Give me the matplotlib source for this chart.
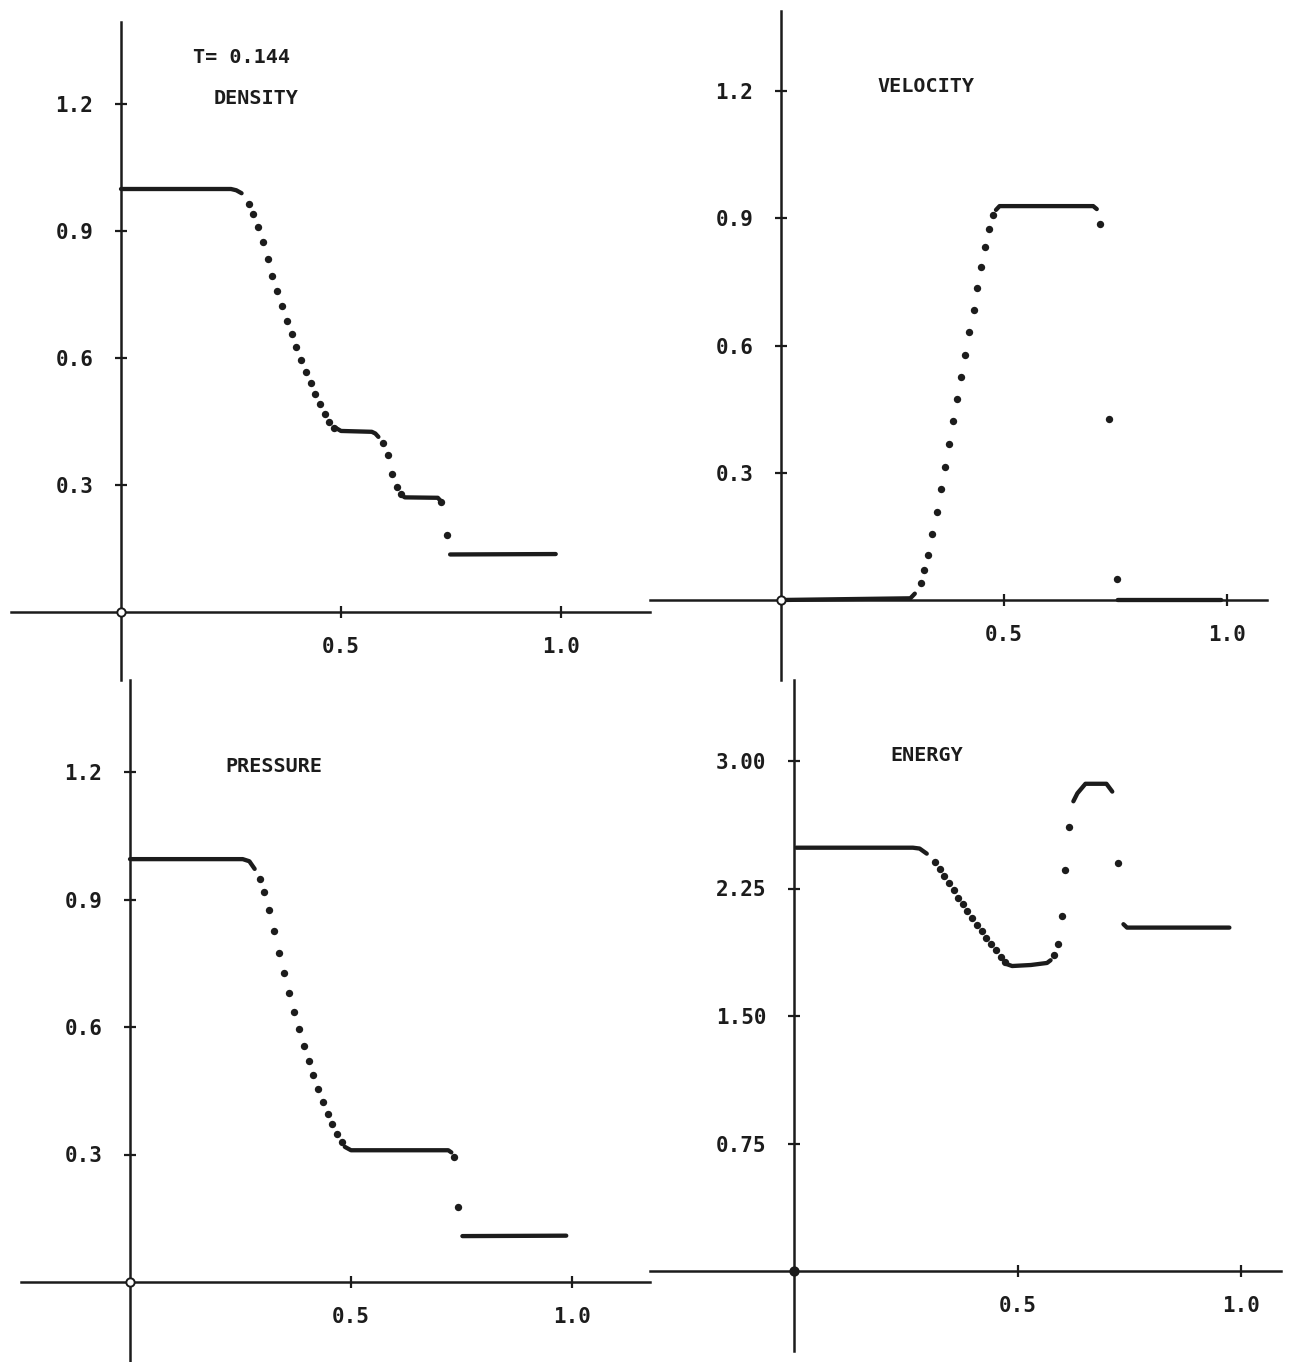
import matplotlib
matplotlib.use("Agg")
import matplotlib.pyplot as plt
import numpy as np

W, H = 1294, 1362
INK = "#1c1c1c"
nan = np.nan

# ---- data (x position, value) ----
# plateaus are drawn as thick polylines (nan separates pieces), the rest as dots
density_line_x = [0.0, 0.25, 0.262, 0.274, nan,
                  0.490, 0.50, 0.57, 0.578, 0.585, nan,
                  0.638, 0.645, 0.72, 0.727, nan,
                  0.748, 0.988]
density_line_y = [1.0, 1.0, 0.997, 0.99, nan,
                  0.434, 0.428, 0.426, 0.422, 0.414, nan,
                  0.276, 0.271, 0.270, 0.262, nan,
                  0.136, 0.137]
density_dot_x = [0.292, 0.301, 0.311, 0.323, 0.333, 0.344, 0.355, 0.367, 0.377, 0.388,
                 0.398, 0.410, 0.420, 0.431, 0.442, 0.453, 0.463, 0.473, 0.483,
                 0.595, 0.606, 0.617, 0.627, 0.636, 0.727, 0.740]
density_dot_y = [0.964, 0.940, 0.909, 0.874, 0.834, 0.794, 0.759, 0.723, 0.689, 0.657,
                 0.626, 0.596, 0.567, 0.541, 0.515, 0.491, 0.467, 0.448, 0.434,
                 0.400, 0.371, 0.326, 0.295, 0.279, 0.261, 0.182]

velocity_line_x = [0.0, 0.29, 0.300, nan,
                   0.482, 0.49, 0.70, 0.708, nan,
                   0.755, 0.987]
velocity_line_y = [0.0, 0.004, 0.015, nan,
                   0.920, 0.929, 0.929, 0.922, nan,
                   0.0, 0.0]
velocity_dot_x = [0.313, 0.321, 0.330, 0.339, 0.349, 0.358, 0.367, 0.376, 0.386, 0.395,
                  0.404, 0.413, 0.422, 0.432, 0.440, 0.449, 0.458, 0.467, 0.476,
                  0.715, 0.736, 0.753]
velocity_dot_y = [0.041, 0.070, 0.106, 0.155, 0.207, 0.261, 0.314, 0.367, 0.421, 0.474,
                  0.526, 0.579, 0.632, 0.683, 0.735, 0.785, 0.833, 0.876, 0.909,
                  0.886, 0.426, 0.049]

pressure_line_x = [0.0, 0.255, 0.270, 0.282, nan,
                   0.486, 0.50, 0.72, 0.727, nan,
                   0.752, 0.987]
pressure_line_y = [0.995, 0.995, 0.990, 0.972, nan,
                   0.318, 0.310, 0.310, 0.305, nan,
                   0.108, 0.109]
pressure_dot_x = [0.295, 0.304, 0.315, 0.326, 0.338, 0.348, 0.360, 0.370, 0.382, 0.393,
                  0.404, 0.414, 0.425, 0.436, 0.447, 0.457, 0.468, 0.479,
                  0.733, 0.741]
pressure_dot_y = [0.948, 0.917, 0.876, 0.827, 0.774, 0.726, 0.680, 0.636, 0.596, 0.556,
                  0.520, 0.486, 0.454, 0.424, 0.396, 0.372, 0.349, 0.330,
                  0.295, 0.176]

energy_line_x = [0.005, 0.266, 0.281, 0.297, nan,
                 0.476, 0.488, 0.53, 0.566, 0.574, nan,
                 0.625, 0.634, 0.652, 0.699, 0.712, nan,
                 0.737, 0.745, 0.974]
energy_line_y = [2.49, 2.49, 2.485, 2.455, nan,
                 1.805, 1.794, 1.80, 1.812, 1.828, nan,
                 2.763, 2.81, 2.866, 2.866, 2.82, nan,
                 2.04, 2.02, 2.02]
energy_dot_x = [0.316, 0.326, 0.336, 0.347, 0.357, 0.368, 0.379, 0.388, 0.399, 0.409,
                0.420, 0.430, 0.441, 0.451, 0.462, 0.471,
                0.581, 0.591, 0.600, 0.607, 0.615, 0.724]
energy_dot_y = [2.406, 2.367, 2.322, 2.282, 2.239, 2.196, 2.157, 2.118, 2.076, 2.038,
                1.998, 1.961, 1.922, 1.886, 1.847, 1.818,
                1.857, 1.926, 2.086, 2.361, 2.612, 2.40]

xticks = [0.5, 1.0]
xtick_labels = ["0.5", "1.0"]
rho_ticks = [0.3, 0.6, 0.9, 1.2]
rho_tick_labels = ["0.3", "0.6", "0.9", "1.2"]
e_ticks = [0.75, 1.50, 2.25, 3.00]
e_tick_labels = ["0.75", "1.50", "2.25", "3.00"]

MONO = "DejaVu Sans Mono"


def make_panel(box, origin, scale, xbounds, ybounds, yticks, ylabels):
    # box / origin in image pixels, scale in pixels per data unit
    x0, y0, x1, y1 = box
    ox, oy = origin
    sx, sy = scale
    ax = fig.add_axes([x0 / W, 1 - y1 / H, (x1 - x0) / W, (y1 - y0) / H])
    ax.set_xlim((x0 - ox) / sx, (x1 - ox) / sx)
    ax.set_ylim((oy - y1) / sy, (oy - y0) / sy)
    ax.patch.set_alpha(0)
    for s in ("top", "right"):
        ax.spines[s].set_visible(False)
    for s in ("left", "bottom"):
        ax.spines[s].set_position(("data", 0))
        ax.spines[s].set_linewidth(1.8)
        ax.spines[s].set_color(INK)
    lo, hi = ax.get_xlim()
    ax.spines["bottom"].set_bounds(max(lo, xbounds[0]), min(hi, xbounds[1]))
    lo, hi = ax.get_ylim()
    ax.spines["left"].set_bounds(max(lo, ybounds[0]), min(hi, ybounds[1]))
    ax.set_xticks(xticks, xtick_labels)
    ax.set_yticks(yticks, ylabels)
    ax.tick_params(direction="inout", length=8, width=1.6, color=INK,
                   labelsize=15, labelcolor=INK)
    ax.tick_params(axis="y", pad=16)
    ax.tick_params(axis="x", pad=14)
    for lab in ax.get_xticklabels() + ax.get_yticklabels():
        lab.set_fontfamily(MONO)
        lab.set_fontweight("bold")
    return ax


def draw(ax, lx, ly, dx, dy, filled_origin=False):
    ax.plot(lx, ly, color=INK, lw=3.1, solid_capstyle="round",
            solid_joinstyle="round", clip_on=False)
    ax.plot(dx, dy, "o", color=INK, ms=5.3, mew=0, clip_on=False)
    ax.plot([0], [0], "o", ms=6, mfc=INK if filled_origin else "white",
            mec=INK, mew=1.4, zorder=5, clip_on=False)


def title(ax, x, y, s):
    ax.text(x, y, s, family=MONO, fontsize=14.5, fontweight="bold",
            color=INK, ha="center", va="center")


fig = plt.figure(figsize=(W / 100, H / 100), dpi=100)
fig.patch.set_facecolor("white")

ax1 = make_panel((0, 0, 650, 680), (121, 612), (440, 423),
                 (-0.25, 9), (-9, 1.395), rho_ticks, rho_tick_labels)
draw(ax1, density_line_x, density_line_y, density_dot_x, density_dot_y)
title(ax1, 0.273, 1.312, "T= 0.144")
title(ax1, 0.306, 1.213, "DENSITY")

ax2 = make_panel((650, 0, 1294, 680), (781, 600), (446, 424),
                 (-9, 1.09), (-9, 1.39), rho_ticks, rho_tick_labels)
draw(ax2, velocity_line_x, velocity_line_y, velocity_dot_x, velocity_dot_y)
title(ax2, 0.326, 1.211, "VELOCITY")

ax3 = make_panel((0, 680, 650, 1362), (130, 1282), (442, 425),
                 (-0.247, 9), (-9, 9), rho_ticks, rho_tick_labels)
draw(ax3, pressure_line_x, pressure_line_y, pressure_dot_x, pressure_dot_y)
title(ax3, 0.326, 1.213, "PRESSURE")

ax4 = make_panel((650, 680, 1294, 1362), (794, 1271), (447, 170),
                 (-9, 1.09), (-0.47, 9), e_ticks, e_tick_labels)
draw(ax4, energy_line_x, energy_line_y, energy_dot_x, energy_dot_y,
     filled_origin=True)
title(ax4, 0.298, 3.03, "ENERGY")

fig.savefig("out.png", dpi=100, facecolor="white")
